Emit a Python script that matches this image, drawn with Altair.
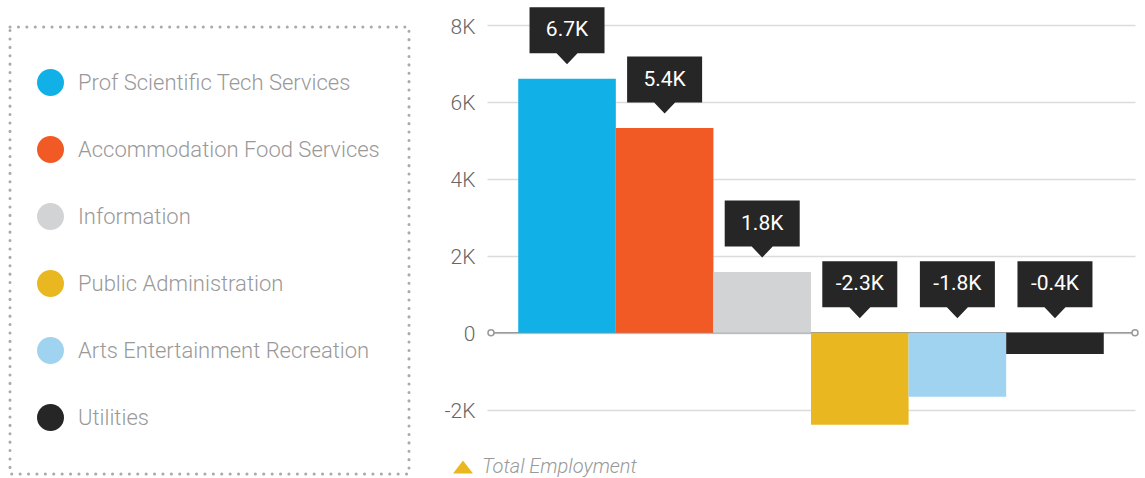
import altair as alt
import pandas as pd

industries = [
    "Prof Scientific Tech Services",
    "Accommodation Food Services",
    "Information",
    "Public Administration",
    "Arts Entertainment Recreation",
    "Utilities",
]
change_k = [6.60, 5.32, 1.58, -2.39, -1.66, -0.55]
callout_labels = ["6.7K", "5.4K", "1.8K", "-2.3K", "-1.8K", "-0.4K"]
bar_colors = ["#11B0E6", "#F15A24", "#D2D3D5", "#E9B820", "#9FD3F0", "#262626"]
y_ticks = [-2, 0, 2, 4, 6, 8]
series_note = "Total Employment"

df = pd.DataFrame({"industry": industries, "change": change_k, "label": callout_labels})
df["anchor"] = df["change"].clip(lower=0)
zero_df = pd.DataFrame({"z": [0]})

FONT = "Roboto"
y_scale = alt.Scale(domain=[-2.5, 8], nice=False)
y_axis = alt.Axis(
    values=y_ticks,
    labelExpr="datum.value == 0 ? '0' : datum.value + 'K'",
    title=None,
    domain=False,
    ticks=False,
    labelPadding=12,
    labelFontSize=21,
    labelColor="#666666",
    labelFont=FONT,
    labelFontWeight=300,
    gridColor="#dcdcdc",
    gridWidth=1.5,
    labelOffset=2,
)
x_enc = alt.X(
    "industry:N",
    sort=industries,
    axis=None,
    scale=alt.Scale(paddingInner=0, paddingOuter=0.32),
)

zero_rule = alt.Chart(zero_df).mark_rule(color="#999999", strokeWidth=1.5).encode(
    x=alt.value(4), x2=alt.value(648), y=alt.Y("z:Q", scale=y_scale, axis=y_axis)
)
zero_left = alt.Chart(zero_df).mark_point(
    size=36, color="#999999", fill="white", filled=False, strokeWidth=1.5, opacity=1
).encode(x=alt.value(4), y=alt.Y("z:Q", scale=y_scale, axis=y_axis))
zero_right = alt.Chart(zero_df).mark_point(
    size=36, color="#999999", fill="white", filled=False, strokeWidth=1.5, opacity=1
).encode(x=alt.value(648), y=alt.Y("z:Q", scale=y_scale, axis=y_axis))

bars = alt.Chart(df).mark_bar().encode(
    x=x_enc,
    y=alt.Y("change:Q", scale=y_scale, axis=y_axis),
    color=alt.Color(
        "industry:N",
        sort=industries,
        scale=alt.Scale(domain=industries, range=bar_colors),
        legend=alt.Legend(
            orient="none",
            legendX=-450,
            legendY=44,
            title=None,
            symbolType="circle",
            symbolSize=729,
            symbolStrokeWidth=0,
            symbolOpacity=1,
            labelFontSize=22,
            labelFontWeight=300,
            labelColor="#999999",
            labelFont=FONT,
            labelOffset=14,
            rowPadding=40,
            labelLimit=400,
            padding=0,
            direction="vertical",
        ),
    ),
)

callout_path = "M-37.5,-71.5H37.5V-25.5H10.5L0,-14.5L-10.5,-25.5H-37.5Z"
boxes = alt.Chart(df).mark_point(
    shape=callout_path, size=4, filled=True, fill="#262626", strokeWidth=0, opacity=1
).encode(x=x_enc, y=alt.Y("anchor:Q", scale=y_scale, axis=y_axis))
texts = alt.Chart(df).mark_text(
    dy=-48.5, color="white", fontSize=21, font=FONT, baseline="middle", align="center"
).encode(x=x_enc, y=alt.Y("anchor:Q", scale=y_scale, axis=y_axis), text="label:N")

legend_box = alt.Chart(zero_df).mark_rect(
    filled=False, stroke="#aaaaaa", strokeWidth=3, strokeDash=[0.1, 8.3], strokeCap="round"
).encode(x=alt.value(-477), x2=alt.value(-78), y=alt.value(2), y2=alt.value(449))

note_tri = alt.Chart(zero_df).mark_point(
    shape="M-10,6.5L0,-6.5L10,6.5Z", size=4, filled=True, fill="#E9B820", strokeWidth=0, opacity=1
).encode(x=alt.value(-24), y=alt.value(442))
note_text = alt.Chart(zero_df).mark_text(
    text=series_note, font=FONT, fontSize=20, fontStyle="italic", fontWeight=300,
    color="#999999", align="left", baseline="alphabetic",
).encode(x=alt.value(-5), y=alt.value(448))

chart = alt.layer(
    legend_box, zero_rule, bars, zero_left, zero_right, boxes, texts, note_tri, note_text
).properties(
    width=648,
    height=404,
    padding={"left": 487, "top": 25, "right": 10, "bottom": 49},
    autosize=alt.AutoSizeParams(type="none"),
).configure_view(stroke=None)

chart.save("out.html", embed_options={"renderer": "svg", "actions": False})
